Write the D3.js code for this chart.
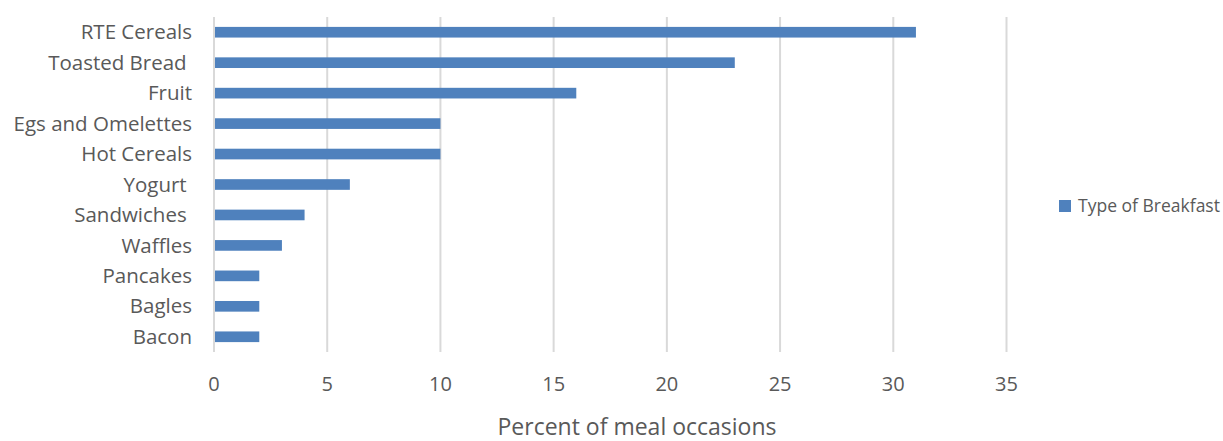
<!DOCTYPE html>
<html><head><meta charset="utf-8">
<script src="https://cdn.jsdelivr.net/npm/d3@7"></script>
<style>body{margin:0;background:#fff;} text{font-family:"Open Sans",sans-serif;fill:#595959;}</style>
</head><body>
<svg id="c" width="1223" height="441"></svg>
<script>
const categories = ["RTE Cereals","Toasted Bread ","Fruit","Egs and Omelettes","Hot Cereals","Yogurt ","Sandwiches ","Waffles","Pancakes","Bagles","Bacon"];
const values = [31,23,16,10,10,6,4,3,2,2,2];
const ticks = [0,5,10,15,20,25,30,35];
const seriesName = "Type of Breakfast";
const axisTitle = "Percent of meal occasions";

const svg = d3.select("#c");
const x = d3.scaleLinear().domain([0,35]).range([214,1006.5]);
const y = d3.scaleBand().domain(categories).range([17,352]).paddingInner(0.65).paddingOuter(0.325);

svg.append("g").selectAll("line").data(ticks).join("line")
  .attr("x1",d=>x(d)).attr("x2",d=>x(d)).attr("y1",17).attr("y2",352)
  .attr("stroke","#d9d9d9").attr("stroke-width",2);

svg.append("g").selectAll("rect").data(values).join("rect")
  .attr("x",x(0)+1).attr("y",(d,i)=>y(categories[i]))
  .attr("width",d=>x(d)-x(0)-1).attr("height",y.bandwidth())
  .attr("fill","#4f81bd");

svg.append("g").selectAll("text").data(categories).join("text")
  .attr("x",192).attr("y",d=>y(d)+y.bandwidth()/2).attr("dy","0.35em")
  .attr("text-anchor","end").style("font-size","20.5px").style("white-space","pre").text(d=>d);

svg.append("g").selectAll("text").data(ticks).join("text")
  .attr("x",d=>x(d)).attr("y",384).attr("dy","0.35em")
  .attr("text-anchor","middle").style("font-size","20px").text(d=>d);

svg.append("text").attr("x",637).attr("y",427).attr("dy","0.35em")
  .attr("text-anchor","middle").style("font-size","23px").text(axisTitle);

svg.append("rect").attr("x",1059).attr("y",200).attr("width",12).attr("height",12).attr("fill","#4f81bd");
const lg = svg.append("text").attr("x",1078).attr("y",206).attr("dy","0.35em").style("font-size","20px").text(seriesName);
const w = lg.node().getComputedTextLength();
if (w > 142) lg.style("font-size", (20*142/w).toFixed(2)+"px");
</script>
</body></html>
